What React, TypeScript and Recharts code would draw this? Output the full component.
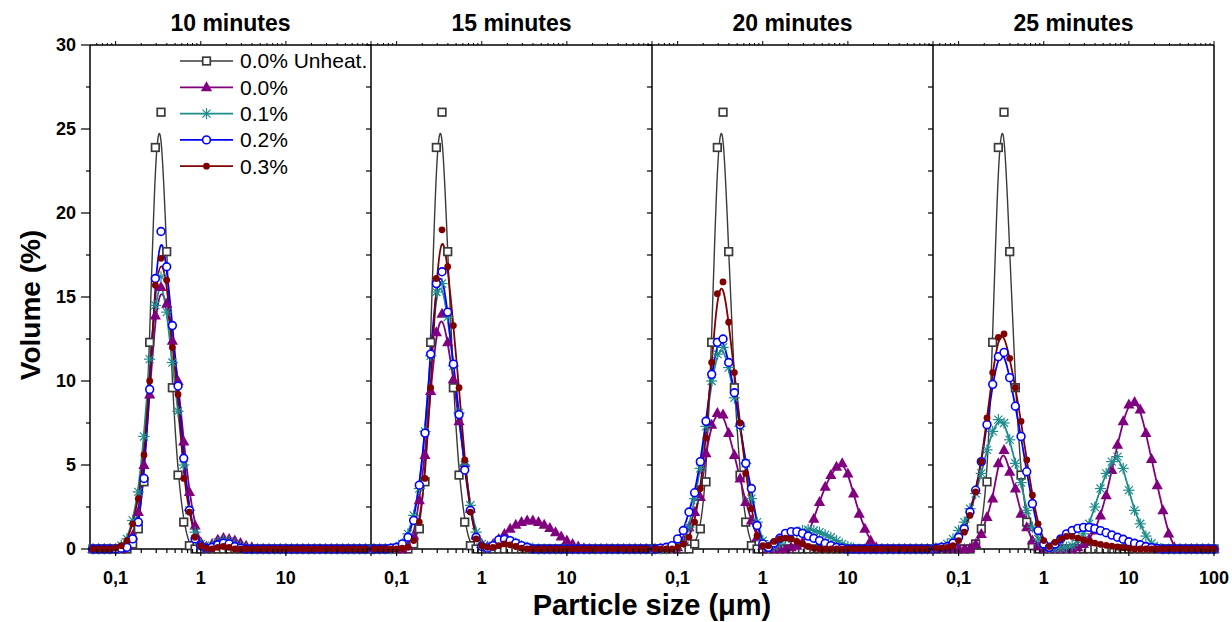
import React from 'react';
import { LineChart, Line, XAxis, YAxis, Legend } from 'recharts';

// particle size classes (µm), shared by every panel
const sizes = [
  0.0541, 0.0631, 0.0736, 0.0858, 0.1, 0.1166, 0.1359, 0.1585, 0.1848, 0.2154,
  0.2512, 0.2929, 0.3415, 0.3981, 0.4642, 0.5412, 0.631, 0.7356, 0.8577, 1,
  1.166, 1.359, 1.585, 1.848, 2.154, 2.512, 2.929, 3.415, 3.981, 4.642,
  5.412, 6.31, 7.356, 8.577, 10, 11.66, 13.59, 15.85, 18.48, 21.54,
  25.12, 29.29, 34.15, 39.81, 46.42, 54.12, 63.1, 73.56, 85.77, 100,
];

// 0.0% unheated reference, same in every panel
const unheated = [
  0, 0, 0, 0, 0, 0, 0, 0.3, 1.2, 4.0,
  12.3, 23.9, 26.0, 17.7, 9.6, 4.4, 1.6, 0.2, 0, 0,
  0, 0, 0, 0, 0, 0, 0, 0, 0, 0,
  0, 0, 0, 0, 0, 0, 0, 0, 0, 0,
  0, 0, 0, 0, 0, 0, 0, 0, 0, 0,
];

// 10 minutes
const vol00_10 = [
  0, 0, 0, 0, 0, 0, 0.2, 0.8, 2.2, 5.0,
  9.2, 13.9, 15.6, 14.6, 12.4, 10.0, 6.4, 3.4, 1.4, 0.4,
  0.15, 0.3, 0.55, 0.65, 0.6, 0.5, 0.35, 0.2, 0.1, 0,
  0, 0, 0, 0, 0, 0, 0, 0, 0, 0,
  0, 0, 0, 0, 0, 0, 0, 0, 0, 0,
];
const vol01_10 = [
  0, 0, 0, 0, 0, 0.2, 0.6, 1.7, 3.4, 6.7,
  11.3, 14.5, 16.2, 14.1, 11.1, 8.2, 5.0, 2.3, 1.0, 0.3,
  0.1, 0.2, 0.4, 0.5, 0.45, 0.3, 0.15, 0.05, 0, 0,
  0, 0, 0, 0, 0, 0, 0, 0, 0, 0,
  0, 0, 0, 0, 0, 0, 0, 0, 0, 0,
];
const vol02_10 = [
  0, 0, 0, 0, 0, 0.05, 0.1, 0.6, 1.6, 4.2,
  9.5, 16.1, 18.9, 16.8, 13.3, 9.7, 5.4, 2.3, 0.6, 0.2,
  0.05, 0.1, 0.25, 0.35, 0.3, 0.15, 0.05, 0, 0, 0,
  0, 0, 0, 0, 0, 0, 0, 0, 0, 0,
  0, 0, 0, 0, 0, 0, 0, 0, 0, 0,
];
const vol03_10 = [
  0, 0, 0, 0, 0.05, 0.2, 0.5, 1.5, 3.0, 5.6,
  10.0, 15.7, 17.3, 16.0, 12.0, 9.2, 4.2, 2.2, 0.7, 0.2,
  0.05, 0, 0.1, 0.15, 0.1, 0, 0, 0, 0, 0,
  0, 0, 0, 0, 0, 0, 0, 0, 0, 0,
  0, 0, 0, 0, 0, 0, 0, 0, 0, 0,
];

// 15 minutes
const vol00_15 = [
  0, 0, 0, 0, 0, 0, 0.2, 0.8, 2.9, 5.6,
  9.4, 12.9, 14.0, 12.3, 10.1, 7.6, 5.1, 2.4, 0.8, 0.3,
  0.15, 0.3, 0.6, 0.9, 1.2, 1.45, 1.6, 1.7, 1.7, 1.6,
  1.45, 1.25, 1.0, 0.75, 0.5, 0.3, 0.15, 0.05, 0, 0,
  0, 0, 0, 0, 0, 0, 0, 0, 0, 0,
];
const vol01_15 = [
  0, 0, 0, 0, 0.1, 0.3, 0.9, 2.0, 3.6, 7.0,
  11.5, 15.3, 15.8, 13.8, 10.9, 8.1, 5.0, 2.6, 1.0, 0.3,
  0.1, 0.2, 0.4, 0.5, 0.45, 0.35, 0.2, 0.1, 0.05, 0,
  0, 0, 0, 0, 0, 0, 0, 0, 0, 0,
  0, 0, 0, 0, 0, 0, 0, 0, 0, 0,
];
const vol02_15 = [
  0, 0, 0, 0.05, 0.1, 0.3, 0.7, 1.7, 3.8, 6.9,
  11.6, 15.8, 16.5, 14.1, 11.0, 8.0, 4.7, 2.3, 0.7, 0.15,
  0.05, 0.2, 0.54, 0.58, 0.5, 0.35, 0.2, 0.1, 0, 0,
  0, 0, 0, 0, 0, 0, 0, 0, 0, 0,
  0, 0, 0, 0, 0, 0, 0, 0, 0, 0,
];
const vol03_15 = [
  0, 0, 0, 0, 0, 0.05, 0.1, 0.5, 1.6, 4.2,
  9.6, 16.1, 19.0, 16.8, 13.3, 9.6, 5.3, 2.2, 0.6, 0.2,
  0.1, 0.1, 0.2, 0.3, 0.25, 0.15, 0.05, 0, 0, 0,
  0, 0, 0, 0, 0, 0, 0, 0, 0, 0,
  0, 0, 0, 0, 0, 0, 0, 0, 0, 0,
];

// 20 minutes
const vol00_20 = [
  0, 0, 0, 0, 0.1, 0.5, 1.3, 2.2, 3.1, 5.7,
  7.4, 8.1, 8.0, 6.9, 5.6, 4.2, 2.8, 1.7, 0.7, 0.2,
  0, 0, 0, 0, 0.1, 0.2, 0.4, 0.9, 1.8, 2.8,
  3.7, 4.4, 4.9, 5.1, 4.5, 3.3, 2.1, 1.2, 0.5, 0.1,
  0, 0, 0, 0, 0, 0, 0, 0, 0, 0,
];
const vol01_20 = [
  0, 0, 0, 0.1, 0.2, 0.4, 1.3, 3.0, 4.8, 7.3,
  10.0, 11.6, 12.0, 10.8, 9.0, 7.3, 5.1, 3.0, 1.6, 0.5,
  0.1, 0.15, 0.35, 0.6, 0.85, 1.0, 1.1, 1.15, 1.1, 1.0,
  0.85, 0.7, 0.5, 0.3, 0.15, 0.05, 0, 0, 0, 0,
  0, 0, 0, 0, 0, 0, 0, 0, 0, 0,
];
const vol02_20 = [
  0, 0.05, 0.1, 0.2, 0.6, 1.1, 2.2, 3.35, 5.2, 7.6,
  10.4, 12.3, 12.5, 11.1, 9.3, 7.4, 5.1, 3.6, 1.4, 0.3,
  0.1, 0.35, 0.64, 0.93, 1.03, 1.03, 0.93, 0.77, 0.64, 0.5,
  0.34, 0.2, 0.1, 0.05, 0, 0, 0, 0, 0, 0,
  0, 0, 0, 0, 0, 0, 0, 0, 0, 0,
];
const vol03_20 = [
  0, 0, 0, 0, 0.1, 0.3, 0.7, 1.6, 3.6, 6.6,
  11.1, 15.2, 15.9, 13.5, 10.5, 7.5, 4.5, 2.4, 0.8, 0.2,
  0.2, 0.45, 0.6, 0.65, 0.6, 0.45, 0.3, 0.15, 0.05, 0,
  0, 0, 0, 0, 0, 0, 0, 0, 0, 0,
  0, 0, 0, 0, 0, 0, 0, 0, 0, 0,
];

// 25 minutes
const vol00_25 = [
  0, 0, 0, 0, 0, 0, 0.05, 0.3, 0.9, 1.9,
  3.0, 5.1, 5.9, 4.6, 3.6, 2.1, 1.3, 0.5, 0.15, 0,
  0, 0, 0, 0, 0, 0.1, 0.3, 0.6, 1.1, 2.0,
  3.2, 4.7, 6.2, 7.6, 8.6, 8.75, 8.3, 6.9, 5.35, 3.8,
  2.3, 0.93, 0.1, 0, 0, 0, 0, 0, 0, 0,
];
const vol01_25 = [
  0.05, 0.1, 0.3, 0.6, 1.1, 1.6, 2.4, 3.3, 4.5, 5.9,
  7.0, 7.7, 7.5, 6.5, 5.1, 3.95, 2.3, 1.3, 0.6, 0.2,
  0.05, 0.05, 0.05, 0.1, 0.2, 0.5, 0.9, 1.5, 2.5, 3.6,
  4.5, 5.2, 5.5, 4.8, 3.5, 2.3, 1.5, 0.77, 0.34, 0.1,
  0, 0, 0, 0, 0, 0, 0, 0, 0, 0,
];
const vol02_25 = [
  0.05, 0.1, 0.15, 0.35, 0.7, 1.2, 2.2, 3.5, 5.2, 7.4,
  9.8, 11.45, 11.7, 10.2, 8.5, 6.7, 4.6, 2.7, 1.1, 0.3,
  0.1, 0.3, 0.6, 0.9, 1.1, 1.23, 1.29, 1.29, 1.21, 1.09,
  0.97, 0.83, 0.7, 0.58, 0.43, 0.34, 0.25, 0.15, 0.08, 0.03,
  0, 0, 0, 0, 0, 0, 0, 0, 0, 0,
];
const vol03_25 = [
  0.05, 0.05, 0.1, 0.2, 0.5, 1.0, 2.0, 3.4, 5.2, 7.8,
  10.5, 12.6, 12.8, 11.35, 9.6, 7.6, 5.3, 3.2, 1.5, 0.5,
  0.15, 0.4, 0.6, 0.75, 0.75, 0.65, 0.55, 0.45, 0.35, 0.28,
  0.22, 0.17, 0.12, 0.08, 0.05, 0, 0, 0, 0, 0,
  0, 0, 0, 0, 0, 0, 0, 0, 0, 0,
];

const xTicks = [
  0.06, 0.07, 0.08, 0.09, 0.1, 0.2, 0.3, 0.4, 0.5, 0.6, 0.7, 0.8, 0.9,
  1, 2, 3, 4, 5, 6, 7, 8, 9, 10, 20, 30, 40, 50, 60, 70, 80, 90, 100,
];
const xMajor = [0.1, 1, 10, 100];
const yTicks = [0, 2.5, 5, 7.5, 10, 12.5, 15, 17.5, 20, 22.5, 25, 27.5, 30];

const SERIES = [
  { key: 'unheat', name: '0.0% Unheat.', color: '#3a3a3a', marker: 'square', width: 1.4 },
  { key: 'p00', name: '0.0%', color: '#800080', marker: 'triangle', width: 1.8 },
  { key: 'p01', name: '0.1%', color: '#1f8c8c', marker: 'star', width: 1.8 },
  { key: 'p02', name: '0.2%', color: '#0000ff', marker: 'circle', width: 1.8 },
  { key: 'p03', name: '0.3%', color: '#800000', marker: 'dot', width: 1.8 },
];

const PANELS = [
  { title: '10 minutes', values: [unheated, vol00_10, vol01_10, vol02_10, vol03_10] },
  { title: '15 minutes', values: [unheated, vol00_15, vol01_15, vol02_15, vol03_15] },
  { title: '20 minutes', values: [unheated, vol00_20, vol01_20, vol02_20, vol03_20] },
  { title: '25 minutes', values: [unheated, vol00_25, vol01_25, vol02_25, vol03_25] },
];

const FONT = 'Arial, "Liberation Sans", Helvetica, sans-serif';
const PLOT_LEFT = 90;
const PLOT_TOP = 45;
const PLOT_BOTTOM = 549;
const PANEL_W = 281;
const Y_W = 60;
const CHART_H = 622;

function Marker({ cx, cy, kind, color }: any) {
  if (cx == null || cy == null) return null;
  if (kind === 'square') {
    return <rect x={cx - 3.8} y={cy - 3.8} width={7.6} height={7.6} fill="#fff" stroke={color} strokeWidth={1.7} />;
  }
  if (kind === 'triangle') {
    return <polygon points={`${cx},${cy - 6} ${cx + 5.6},${cy + 4} ${cx - 5.6},${cy + 4}`} fill={color} />;
  }
  if (kind === 'star') {
    const r = 5.6;
    const d = r * 0.72;
    return (
      <g stroke={color} strokeWidth={1.2}>
        <line x1={cx - r} y1={cy} x2={cx + r} y2={cy} />
        <line x1={cx} y1={cy - r} x2={cx} y2={cy + r} />
        <line x1={cx - d} y1={cy - d} x2={cx + d} y2={cy + d} />
        <line x1={cx - d} y1={cy + d} x2={cx + d} y2={cy - d} />
      </g>
    );
  }
  if (kind === 'circle') {
    return <circle cx={cx} cy={cy} r={3.9} fill="#fff" stroke={color} strokeWidth={1.6} />;
  }
  return <circle cx={cx} cy={cy} r={3.4} fill={color} />;
}

const isMajor = (v: number) => xMajor.some((m) => Math.abs(m - v) < 1e-9);
const fmtX = (v: number) => (v === 0.1 ? '0,1' : String(v));

function BottomTick({ x, y, payload, last }: any) {
  const v = payload.value;
  const major = isMajor(v);
  const showLabel = major && (v !== 100 || last);
  return (
    <g>
      <line x1={x} y1={y} x2={x} y2={y + (major ? 7 : 4)} stroke="#000" strokeWidth={1.2} />
      {showLabel && (
        <text x={x} y={y + 29} textAnchor="middle" dy="0.35em" fontSize={18} fontWeight="bold" fontFamily={FONT} fill="#000">
          {fmtX(v)}
        </text>
      )}
    </g>
  );
}

function TopTick({ x, y, payload }: any) {
  const major = isMajor(payload.value);
  return <line x1={x} y1={y} x2={x} y2={y - (major ? 4 : 2)} stroke="#000" strokeWidth={1} />;
}

function LeftTick({ x, y, payload, first }: any) {
  const v = payload.value;
  const major = v % 5 === 0;
  if (!first) {
    return <line x1={x} y1={y} x2={x - 5} y2={y} stroke="#000" strokeWidth={1.2} />;
  }
  return (
    <g>
      <line x1={x} y1={y} x2={x - (major ? 9 : 4)} y2={y} stroke="#000" strokeWidth={1.2} />
      {major && (
        <text x={x - 14} y={y} textAnchor="end" dy="0.35em" fontSize={18} fontWeight="bold" fontFamily={FONT} fill="#000">
          {v}
        </text>
      )}
    </g>
  );
}

function RightTick({ x, y }: any) {
  return <line x1={x} y1={y} x2={x - 5} y2={y} stroke="#000" strokeWidth={1.2} />;
}

function renderLegend() {
  return (
    <svg width={210} height={130}>
      {SERIES.map((s, i) => {
        const y = 13 + i * 26.3;
        return (
          <g key={s.key}>
            <line x1={5} y1={y} x2={58} y2={y} stroke={s.color} strokeWidth={s.width} />
            <Marker cx={31.5} cy={y} kind={s.marker} color={s.color} />
            <text x={65} y={y} dy="0.35em" fontSize={21} fontFamily={FONT} fill="#000">
              {s.name}
            </text>
          </g>
        );
      })}
    </svg>
  );
}

function Panel({ index }: { index: number }) {
  const panel = PANELS[index];
  const first = index === 0;
  const last = index === PANELS.length - 1;
  const rows = sizes.map((size, i) => {
    const row: Record<string, number> = { size };
    SERIES.forEach((s, j) => {
      row[s.key] = panel.values[j][i];
    });
    return row;
  });
  const left = PLOT_LEFT + index * PANEL_W - Y_W;
  return (
    <div style={{ position: 'absolute', left, top: 0 }}>
      <LineChart
        width={Y_W + PANEL_W + 20}
        height={CHART_H}
        data={rows}
        margin={{ top: PLOT_TOP - 10, right: last ? 10 : 20, bottom: CHART_H - PLOT_BOTTOM - 40, left: 0 }}
      >
        <XAxis
          xAxisId="b"
          dataKey="size"
          type="number"
          scale="log"
          domain={[0.05, 100]}
          ticks={xTicks}
          interval={0}
          height={40}
          tickSize={0}
          tickMargin={0}
          tickLine={false}
          axisLine={{ stroke: '#000', strokeWidth: 1.5 }}
          tick={(p: any) => <BottomTick {...p} last={last} />}
        />
        <XAxis
          xAxisId="t"
          orientation="top"
          dataKey="size"
          type="number"
          scale="log"
          domain={[0.05, 100]}
          ticks={xTicks}
          interval={0}
          height={10}
          tickSize={0}
          tickMargin={0}
          tickLine={false}
          axisLine={{ stroke: '#000', strokeWidth: 1.5 }}
          tick={(p: any) => <TopTick {...p} />}
        />
        <YAxis
          yAxisId="l"
          type="number"
          domain={[0, 30]}
          ticks={yTicks}
          interval={0}
          width={Y_W}
          tickSize={0}
          tickMargin={0}
          tickLine={false}
          axisLine={{ stroke: '#000', strokeWidth: 1.5 }}
          tick={(p: any) => <LeftTick {...p} first={first} />}
        />
        {last && (
          <YAxis
            yAxisId="r"
            orientation="right"
            type="number"
            domain={[0, 30]}
            ticks={yTicks}
            interval={0}
            width={10}
            tickSize={0}
            tickMargin={0}
            tickLine={false}
            axisLine={{ stroke: '#000', strokeWidth: 1.5 }}
            tick={(p: any) => <RightTick {...p} />}
          />
        )}
        {SERIES.map((s) => (
          <Line
            key={s.key}
            xAxisId="b"
            yAxisId="l"
            type="basis"
            dataKey={s.key}
            name={s.name}
            stroke={s.color}
            strokeWidth={s.width}
            isAnimationActive={false}
            activeDot={false}
            dot={(p: any) => <Marker key={`${s.key}-${p.index}`} cx={p.cx} cy={p.cy} kind={s.marker} color={s.color} />}
          />
        ))}
        {first && (
          <Legend
            layout="vertical"
            align="center"
            verticalAlign="middle"
            content={renderLegend}
            wrapperStyle={{ left: 175 - left, top: 48, width: 210, height: 130 }}
          />
        )}
      </LineChart>
    </div>
  );
}

export default function App() {
  return (
    <div style={{ position: 'absolute', left: 0, top: 0, width: 1232, height: 622, background: '#fff', fontFamily: FONT }}>
      {PANELS.map((p, i) => (
        <Panel key={p.title} index={i} />
      ))}
      {PANELS.map((p, i) => (
        <div
          key={`t-${p.title}`}
          style={{
            position: 'absolute',
            left: PLOT_LEFT + i * PANEL_W,
            width: PANEL_W,
            top: 12,
            textAlign: 'center',
            fontSize: 23,
            lineHeight: '23px',
            fontWeight: 'bold',
            color: '#000',
          }}
        >
          {p.title}
        </div>
      ))}
      <div
        style={{
          position: 'absolute',
          left: PLOT_LEFT,
          width: PANEL_W * 4,
          top: 591,
          textAlign: 'center',
          fontSize: 29,
          lineHeight: '29px',
          fontWeight: 'bold',
          color: '#000',
        }}
      >
        Particle size (μm)
      </div>
      <div
        style={{
          position: 'absolute',
          left: 31,
          top: (PLOT_TOP + PLOT_BOTTOM) / 2 + 8,
          transform: 'translate(-50%, -50%) rotate(-90deg)',
          whiteSpace: 'nowrap',
          fontSize: 28,
          lineHeight: '28px',
          fontWeight: 'bold',
          color: '#000',
        }}
      >
        Volume (%)
      </div>
    </div>
  );
}
